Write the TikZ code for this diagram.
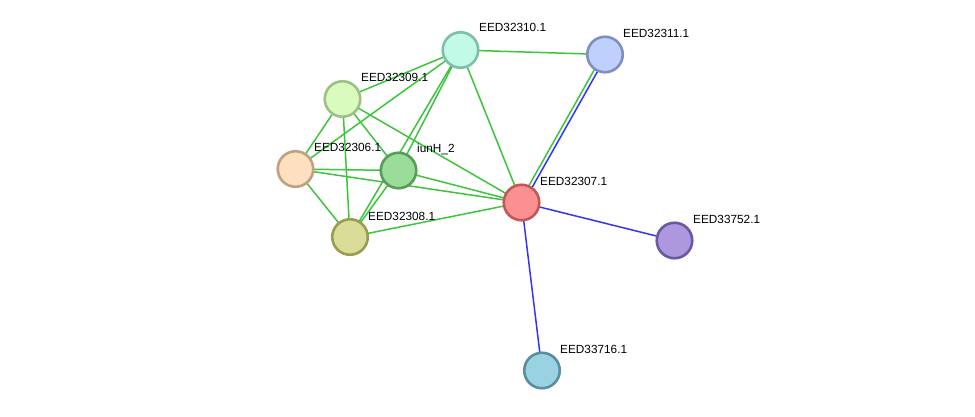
\documentclass[tikz,border=0pt]{standalone}
\usepackage{fontspec}
\setmainfont{Liberation Sans}
\begin{document}
\begin{tikzpicture}[x=1pt,y=-1pt,
  prot/.style={circle,minimum size=35.5pt,inner sep=0pt,line width=2.6pt},
  lbl/.style={anchor=west,inner sep=0pt,font=\fontsize{11.8}{13}\selectfont},
  gedge/.style={draw={rgb,255:red,61;green,196;blue,61},line width=1.5pt},
  bedge/.style={draw={rgb,255:red,51;green,51;blue,255},line width=1.5pt}]
\useasboundingbox (0,0) rectangle (975,416);
% node positions
\coordinate (p10) at (460.5,50);
\coordinate (p11) at (605,54.5);
\coordinate (p09) at (342.5,99);
\coordinate (p06) at (295.5,169);
\coordinate (piu) at (398.5,170.5);
\coordinate (p07) at (521.5,202.5);
\coordinate (p08) at (350,237);
\coordinate (p52) at (674.5,240.5);
\coordinate (p16) at (542,370.5);
% edges
\path[gedge] (p10) -- (p11);
\path[gedge] (p10) -- (p09);
\path[gedge] (p10) -- (p06);
\path[gedge] (p10) -- (piu);
\path[gedge] (p10) -- (p08);
\path[gedge] (p10) -- (p07);
\path[gedge] (p09) -- (p06);
\path[gedge] (p09) -- (piu);
\path[gedge] (p09) -- (p08);
\path[gedge] (p09) -- (p07);
\path[gedge] (p06) -- (piu);
\path[gedge] (p06) -- (p07);
\path[gedge] (p06) -- (p08);
\path[gedge] (piu) -- (p07);
\path[gedge] (piu) -- (p08);
\path[gedge] (p08) -- (p07);
\path[gedge] ([xshift=-1.6pt,yshift=0.9pt]p07) -- ([xshift=-1.6pt,yshift=0.9pt]p11);
\path[bedge] ([xshift=1.6pt,yshift=-0.9pt]p07) -- ([xshift=1.6pt,yshift=-0.9pt]p11);
\path[bedge] (p07) -- (p52);
\path[bedge] (p07) -- (p16);
% nodes
\node[prot,fill={rgb,255:red,193;green,250;blue,230},draw={rgb,255:red,127;green,191;blue,169}] (n10) at (p10) {};
\node[prot,fill={rgb,255:red,192;green,208;blue,252},draw={rgb,255:red,127;green,143;blue,191}] (n11) at (p11) {};
\node[prot,fill={rgb,255:red,217;green,251;blue,190},draw={rgb,255:red,158;green,192;blue,132}] (n09) at (p09) {};
\node[prot,fill={rgb,255:red,253;green,224;blue,192},draw={rgb,255:red,192;green,160;blue,128}] (n06) at (p06) {};
\node[prot,fill={rgb,255:red,153;green,221;blue,153},draw={rgb,255:red,90;green,154;blue,90}] (niu) at (piu) {};
\node[prot,fill={rgb,255:red,252;green,144;blue,144},draw={rgb,255:red,192;green,88;blue,88}] (n07) at (p07) {};
\node[prot,fill={rgb,255:red,217;green,221;blue,153},draw={rgb,255:red,154;green,157;blue,80}] (n08) at (p08) {};
\node[prot,fill={rgb,255:red,173;green,152;blue,224},draw={rgb,255:red,106;green,88;blue,160}] (n52) at (p52) {};
\node[prot,fill={rgb,255:red,153;green,210;blue,224},draw={rgb,255:red,90;green,142;blue,157}] (n16) at (p16) {};
% labels
\node[lbl] (l10) at (479,27) {EED32310.1};
\node[lbl] (l11) at (623,33) {EED32311.1};
\node[lbl] (l09) at (361,77) {EED32309.1};
\node[lbl] (l06) at (314,147) {EED32306.1};
\node[lbl] (liu) at (417,149) {iunH\_2};
\node[lbl] (l07) at (540,181) {EED32307.1};
\node[lbl] (l08) at (368,216) {EED32308.1};
\node[lbl] (l52) at (693,219) {EED33752.1};
\node[lbl] (l16) at (560,349) {EED33716.1};
\end{tikzpicture}
\end{document}
